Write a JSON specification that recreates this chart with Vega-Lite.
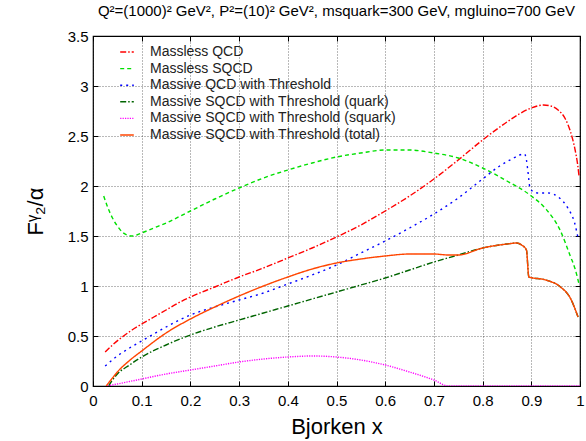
{
  "$schema": "https://vega.github.io/schema/vega-lite/v6.json",
  "width": 487,
  "height": 350,
  "autosize": {"type": "none"},
  "padding": {"left": 93, "top": 36, "right": 6, "bottom": 55},
  "background": "white",
  "config": {
    "font": "Liberation Sans",
    "view": {"stroke": "black", "strokeWidth": 1.2},
    "axis": {"domain": false}
  },
  "title": {
    "text": "Q²=(1000)² GeV², P²=(10)² GeV², msquark=300 GeV, mgluino=700 GeV",
    "font": "Liberation Sans",
    "fontSize": 15,
    "fontWeight": "normal",
    "color": "black",
    "anchor": "middle",
    "offset": 10
  },
  "data": {
    "values": [
      {"series": "Massless QCD", "x": 0.025, "y": 0.34},
      {"series": "Massless QCD", "x": 0.04, "y": 0.41},
      {"series": "Massless QCD", "x": 0.06, "y": 0.49},
      {"series": "Massless QCD", "x": 0.08, "y": 0.56},
      {"series": "Massless QCD", "x": 0.1, "y": 0.62},
      {"series": "Massless QCD", "x": 0.125, "y": 0.69},
      {"series": "Massless QCD", "x": 0.15, "y": 0.76},
      {"series": "Massless QCD", "x": 0.175, "y": 0.83},
      {"series": "Massless QCD", "x": 0.2, "y": 0.89},
      {"series": "Massless QCD", "x": 0.25, "y": 0.99},
      {"series": "Massless QCD", "x": 0.3, "y": 1.09},
      {"series": "Massless QCD", "x": 0.35, "y": 1.18},
      {"series": "Massless QCD", "x": 0.4, "y": 1.28},
      {"series": "Massless QCD", "x": 0.45, "y": 1.38},
      {"series": "Massless QCD", "x": 0.5, "y": 1.49},
      {"series": "Massless QCD", "x": 0.55, "y": 1.61},
      {"series": "Massless QCD", "x": 0.6, "y": 1.75},
      {"series": "Massless QCD", "x": 0.65, "y": 1.9},
      {"series": "Massless QCD", "x": 0.7, "y": 2.07},
      {"series": "Massless QCD", "x": 0.75, "y": 2.26},
      {"series": "Massless QCD", "x": 0.8, "y": 2.46},
      {"series": "Massless QCD", "x": 0.85, "y": 2.64},
      {"series": "Massless QCD", "x": 0.875, "y": 2.72},
      {"series": "Massless QCD", "x": 0.9, "y": 2.78},
      {"series": "Massless QCD", "x": 0.925, "y": 2.81},
      {"series": "Massless QCD", "x": 0.94, "y": 2.8},
      {"series": "Massless QCD", "x": 0.955, "y": 2.76},
      {"series": "Massless QCD", "x": 0.97, "y": 2.67},
      {"series": "Massless QCD", "x": 0.98, "y": 2.55},
      {"series": "Massless QCD", "x": 0.99, "y": 2.36},
      {"series": "Massless QCD", "x": 0.995, "y": 2.22},
      {"series": "Massless QCD", "x": 0.998, "y": 2.1},

      {"series": "Massless SQCD", "x": 0.022, "y": 1.9},
      {"series": "Massless SQCD", "x": 0.03, "y": 1.79},
      {"series": "Massless SQCD", "x": 0.04, "y": 1.68},
      {"series": "Massless SQCD", "x": 0.05, "y": 1.6},
      {"series": "Massless SQCD", "x": 0.06, "y": 1.54},
      {"series": "Massless SQCD", "x": 0.07, "y": 1.51},
      {"series": "Massless SQCD", "x": 0.08, "y": 1.5},
      {"series": "Massless SQCD", "x": 0.09, "y": 1.51},
      {"series": "Massless SQCD", "x": 0.1, "y": 1.53},
      {"series": "Massless SQCD", "x": 0.125, "y": 1.58},
      {"series": "Massless SQCD", "x": 0.15, "y": 1.63},
      {"series": "Massless SQCD", "x": 0.2, "y": 1.75},
      {"series": "Massless SQCD", "x": 0.25, "y": 1.87},
      {"series": "Massless SQCD", "x": 0.3, "y": 1.98},
      {"series": "Massless SQCD", "x": 0.35, "y": 2.08},
      {"series": "Massless SQCD", "x": 0.4, "y": 2.16},
      {"series": "Massless SQCD", "x": 0.45, "y": 2.23},
      {"series": "Massless SQCD", "x": 0.5, "y": 2.29},
      {"series": "Massless SQCD", "x": 0.55, "y": 2.33},
      {"series": "Massless SQCD", "x": 0.6, "y": 2.36},
      {"series": "Massless SQCD", "x": 0.65, "y": 2.36},
      {"series": "Massless SQCD", "x": 0.7, "y": 2.33},
      {"series": "Massless SQCD", "x": 0.75, "y": 2.28},
      {"series": "Massless SQCD", "x": 0.8, "y": 2.18},
      {"series": "Massless SQCD", "x": 0.85, "y": 2.05},
      {"series": "Massless SQCD", "x": 0.9, "y": 1.9},
      {"series": "Massless SQCD", "x": 0.93, "y": 1.77},
      {"series": "Massless SQCD", "x": 0.96, "y": 1.55},
      {"series": "Massless SQCD", "x": 0.98, "y": 1.3},
      {"series": "Massless SQCD", "x": 0.99, "y": 1.17},
      {"series": "Massless SQCD", "x": 0.998, "y": 1.02},

      {"series": "Massive QCD with Threshold", "x": 0.025, "y": 0.2},
      {"series": "Massive QCD with Threshold", "x": 0.05, "y": 0.3},
      {"series": "Massive QCD with Threshold", "x": 0.075, "y": 0.38},
      {"series": "Massive QCD with Threshold", "x": 0.1, "y": 0.45},
      {"series": "Massive QCD with Threshold", "x": 0.15, "y": 0.59},
      {"series": "Massive QCD with Threshold", "x": 0.2, "y": 0.71},
      {"series": "Massive QCD with Threshold", "x": 0.25, "y": 0.79},
      {"series": "Massive QCD with Threshold", "x": 0.3, "y": 0.86},
      {"series": "Massive QCD with Threshold", "x": 0.35, "y": 0.93},
      {"series": "Massive QCD with Threshold", "x": 0.4, "y": 1.02},
      {"series": "Massive QCD with Threshold", "x": 0.45, "y": 1.11},
      {"series": "Massive QCD with Threshold", "x": 0.5, "y": 1.21},
      {"series": "Massive QCD with Threshold", "x": 0.55, "y": 1.33},
      {"series": "Massive QCD with Threshold", "x": 0.6, "y": 1.45},
      {"series": "Massive QCD with Threshold", "x": 0.65, "y": 1.58},
      {"series": "Massive QCD with Threshold", "x": 0.7, "y": 1.72},
      {"series": "Massive QCD with Threshold", "x": 0.75, "y": 1.88},
      {"series": "Massive QCD with Threshold", "x": 0.8, "y": 2.07},
      {"series": "Massive QCD with Threshold", "x": 0.835, "y": 2.2},
      {"series": "Massive QCD with Threshold", "x": 0.86, "y": 2.27},
      {"series": "Massive QCD with Threshold", "x": 0.876, "y": 2.31},
      {"series": "Massive QCD with Threshold", "x": 0.886, "y": 2.32},
      {"series": "Massive QCD with Threshold", "x": 0.89, "y": 2.26},
      {"series": "Massive QCD with Threshold", "x": 0.893, "y": 2.15},
      {"series": "Massive QCD with Threshold", "x": 0.897, "y": 1.99},
      {"series": "Massive QCD with Threshold", "x": 0.905, "y": 1.94},
      {"series": "Massive QCD with Threshold", "x": 0.915, "y": 1.93},
      {"series": "Massive QCD with Threshold", "x": 0.935, "y": 1.93},
      {"series": "Massive QCD with Threshold", "x": 0.958, "y": 1.88},
      {"series": "Massive QCD with Threshold", "x": 0.975, "y": 1.78},
      {"series": "Massive QCD with Threshold", "x": 0.989, "y": 1.63},
      {"series": "Massive QCD with Threshold", "x": 0.996, "y": 1.48},

      {"series": "Massive SQCD with Threshold (quark)", "x": 0.032, "y": 0.0},
      {"series": "Massive SQCD with Threshold (quark)", "x": 0.04, "y": 0.06},
      {"series": "Massive SQCD with Threshold (quark)", "x": 0.05, "y": 0.12},
      {"series": "Massive SQCD with Threshold (quark)", "x": 0.075, "y": 0.21},
      {"series": "Massive SQCD with Threshold (quark)", "x": 0.1, "y": 0.29},
      {"series": "Massive SQCD with Threshold (quark)", "x": 0.15, "y": 0.41},
      {"series": "Massive SQCD with Threshold (quark)", "x": 0.2, "y": 0.51},
      {"series": "Massive SQCD with Threshold (quark)", "x": 0.25, "y": 0.59},
      {"series": "Massive SQCD with Threshold (quark)", "x": 0.3, "y": 0.66},
      {"series": "Massive SQCD with Threshold (quark)", "x": 0.35, "y": 0.73},
      {"series": "Massive SQCD with Threshold (quark)", "x": 0.4, "y": 0.8},
      {"series": "Massive SQCD with Threshold (quark)", "x": 0.45, "y": 0.87},
      {"series": "Massive SQCD with Threshold (quark)", "x": 0.5, "y": 0.94},
      {"series": "Massive SQCD with Threshold (quark)", "x": 0.55, "y": 1.01},
      {"series": "Massive SQCD with Threshold (quark)", "x": 0.6, "y": 1.08},
      {"series": "Massive SQCD with Threshold (quark)", "x": 0.65, "y": 1.16},
      {"series": "Massive SQCD with Threshold (quark)", "x": 0.7, "y": 1.24},
      {"series": "Massive SQCD with Threshold (quark)", "x": 0.75, "y": 1.31},
      {"series": "Massive SQCD with Threshold (quark)", "x": 0.8, "y": 1.38},
      {"series": "Massive SQCD with Threshold (quark)", "x": 0.85, "y": 1.42},
      {"series": "Massive SQCD with Threshold (quark)", "x": 0.87, "y": 1.43},
      {"series": "Massive SQCD with Threshold (quark)", "x": 0.88, "y": 1.41},
      {"series": "Massive SQCD with Threshold (quark)", "x": 0.89, "y": 1.36},
      {"series": "Massive SQCD with Threshold (quark)", "x": 0.895, "y": 1.09},
      {"series": "Massive SQCD with Threshold (quark)", "x": 0.93, "y": 1.06},
      {"series": "Massive SQCD with Threshold (quark)", "x": 0.96, "y": 0.99},
      {"series": "Massive SQCD with Threshold (quark)", "x": 0.98, "y": 0.88},
      {"series": "Massive SQCD with Threshold (quark)", "x": 0.996, "y": 0.69},

      {"series": "Massive SQCD with Threshold (squark)", "x": 0.03, "y": 0.0},
      {"series": "Massive SQCD with Threshold (squark)", "x": 0.05, "y": 0.02},
      {"series": "Massive SQCD with Threshold (squark)", "x": 0.075, "y": 0.045},
      {"series": "Massive SQCD with Threshold (squark)", "x": 0.1, "y": 0.07},
      {"series": "Massive SQCD with Threshold (squark)", "x": 0.15, "y": 0.12},
      {"series": "Massive SQCD with Threshold (squark)", "x": 0.2, "y": 0.16},
      {"series": "Massive SQCD with Threshold (squark)", "x": 0.25, "y": 0.2},
      {"series": "Massive SQCD with Threshold (squark)", "x": 0.3, "y": 0.24},
      {"series": "Massive SQCD with Threshold (squark)", "x": 0.35, "y": 0.27},
      {"series": "Massive SQCD with Threshold (squark)", "x": 0.4, "y": 0.29},
      {"series": "Massive SQCD with Threshold (squark)", "x": 0.45, "y": 0.3},
      {"series": "Massive SQCD with Threshold (squark)", "x": 0.5, "y": 0.29},
      {"series": "Massive SQCD with Threshold (squark)", "x": 0.55, "y": 0.26},
      {"series": "Massive SQCD with Threshold (squark)", "x": 0.6, "y": 0.21},
      {"series": "Massive SQCD with Threshold (squark)", "x": 0.65, "y": 0.14},
      {"series": "Massive SQCD with Threshold (squark)", "x": 0.7, "y": 0.06},
      {"series": "Massive SQCD with Threshold (squark)", "x": 0.73, "y": 0.0},
      {"series": "Massive SQCD with Threshold (squark)", "x": 0.8, "y": 0.0},
      {"series": "Massive SQCD with Threshold (squark)", "x": 0.9, "y": 0.0},
      {"series": "Massive SQCD with Threshold (squark)", "x": 1.0, "y": 0.0},

      {"series": "Massive SQCD with Threshold (total)", "x": 0.027, "y": 0.0},
      {"series": "Massive SQCD with Threshold (total)", "x": 0.04, "y": 0.08},
      {"series": "Massive SQCD with Threshold (total)", "x": 0.05, "y": 0.14},
      {"series": "Massive SQCD with Threshold (total)", "x": 0.075, "y": 0.255},
      {"series": "Massive SQCD with Threshold (total)", "x": 0.1, "y": 0.35},
      {"series": "Massive SQCD with Threshold (total)", "x": 0.15, "y": 0.53},
      {"series": "Massive SQCD with Threshold (total)", "x": 0.2, "y": 0.67},
      {"series": "Massive SQCD with Threshold (total)", "x": 0.25, "y": 0.79},
      {"series": "Massive SQCD with Threshold (total)", "x": 0.3, "y": 0.9},
      {"series": "Massive SQCD with Threshold (total)", "x": 0.35, "y": 1.0},
      {"series": "Massive SQCD with Threshold (total)", "x": 0.4, "y": 1.09},
      {"series": "Massive SQCD with Threshold (total)", "x": 0.45, "y": 1.17},
      {"series": "Massive SQCD with Threshold (total)", "x": 0.5, "y": 1.23},
      {"series": "Massive SQCD with Threshold (total)", "x": 0.55, "y": 1.27},
      {"series": "Massive SQCD with Threshold (total)", "x": 0.6, "y": 1.3},
      {"series": "Massive SQCD with Threshold (total)", "x": 0.65, "y": 1.32},
      {"series": "Massive SQCD with Threshold (total)", "x": 0.7, "y": 1.32},
      {"series": "Massive SQCD with Threshold (total)", "x": 0.73, "y": 1.31},
      {"series": "Massive SQCD with Threshold (total)", "x": 0.75, "y": 1.31},
      {"series": "Massive SQCD with Threshold (total)", "x": 0.8, "y": 1.38},
      {"series": "Massive SQCD with Threshold (total)", "x": 0.85, "y": 1.42},
      {"series": "Massive SQCD with Threshold (total)", "x": 0.87, "y": 1.43},
      {"series": "Massive SQCD with Threshold (total)", "x": 0.88, "y": 1.41},
      {"series": "Massive SQCD with Threshold (total)", "x": 0.89, "y": 1.36},
      {"series": "Massive SQCD with Threshold (total)", "x": 0.895, "y": 1.09},
      {"series": "Massive SQCD with Threshold (total)", "x": 0.93, "y": 1.06},
      {"series": "Massive SQCD with Threshold (total)", "x": 0.96, "y": 0.99},
      {"series": "Massive SQCD with Threshold (total)", "x": 0.98, "y": 0.88},
      {"series": "Massive SQCD with Threshold (total)", "x": 0.996, "y": 0.69}
    ]
  },
  "resolve": {"axis": {"x": "independent", "y": "independent"}},
  "layer": [
    {
      "mark": {"type": "line", "interpolate": "monotone", "clip": true},
      "encoding": {
        "x": {
          "field": "x", "type": "quantitative",
          "scale": {"domain": [0, 1], "nice": false, "zero": false},
          "axis": {
            "orient": "bottom",
            "title": "Bjorken x",
            "titleFont": "Liberation Sans",
            "titleFontSize": 22,
            "titleFontWeight": "normal",
            "titleColor": "black",
            "titlePadding": 8,
            "values": [0, 0.1, 0.2, 0.3, 0.4, 0.5, 0.6, 0.7, 0.8, 0.9, 1],
            "format": "~g",
            "labelFont": "Liberation Sans",
            "labelFontSize": 15,
            "labelColor": "black",
            "labelPadding": 12,
            "labelFlush": false,
            "tickSize": -5,
            "tickColor": "black",
            "grid": true,
            "gridColor": "black",
            "gridDash": [1, 2],
            "gridOpacity": 0.55
          }
        },
        "y": {
          "field": "y", "type": "quantitative",
          "scale": {"domain": [0, 3.5], "nice": false, "zero": false},
          "axis": {
            "orient": "left",
            "title": "Fᵞ₂/α",
            "titleFont": "Liberation Sans",
            "titleFontSize": 22,
            "titleFontWeight": "normal",
            "titleColor": "black",
            "titlePadding": 20,
            "values": [0, 0.5, 1, 1.5, 2, 2.5, 3, 3.5],
            "format": "~g",
            "labelFont": "Liberation Sans",
            "labelFontSize": 15,
            "labelColor": "black",
            "labelPadding": 10,
            "labelFlush": false,
            "tickSize": -5,
            "tickColor": "black",
            "grid": true,
            "gridColor": "black",
            "gridDash": [1, 2],
            "gridOpacity": 0.55
          }
        },
        "color": {
          "field": "series", "type": "nominal",
          "scale": {
            "domain": ["Massless QCD", "Massless SQCD", "Massive QCD with Threshold", "Massive SQCD with Threshold (quark)", "Massive SQCD with Threshold (squark)", "Massive SQCD with Threshold (total)"],
            "range": ["#ff0000", "#00e000", "#0000ff", "#006400", "#ff00ff", "#ff4500"]
          },
          "legend": {
            "title": null,
            "orient": "none",
            "legendX": 25,
            "legendY": 7,
            "padding": 0,
            "symbolType": "M-0.85,0H0.85",
            "symbolSize": 256,
            "symbolStrokeWidth": 1.5,
            "labelFont": "Liberation Sans",
            "labelFontSize": 14,
            "labelColor": "#222222",
            "labelOffset": 14,
            "labelLimit": 400,
            "rowPadding": 0.6
          }
        },
        "strokeDash": {
          "field": "series", "type": "nominal",
          "scale": {
            "domain": ["Massless QCD", "Massless SQCD", "Massive QCD with Threshold", "Massive SQCD with Threshold (quark)", "Massive SQCD with Threshold (squark)", "Massive SQCD with Threshold (total)"],
            "range": [[6, 2, 1.5, 2], [4, 3], [2, 4], [6, 2, 1.5, 2], [1.2, 1.2], [1, 0]]
          },
          "legend": {
            "title": null,
            "orient": "none",
            "legendX": 25,
            "legendY": 7,
            "padding": 0,
            "symbolType": "M-0.85,0H0.85",
            "symbolSize": 256,
            "symbolStrokeWidth": 1.5,
            "labelFont": "Liberation Sans",
            "labelFontSize": 14,
            "labelColor": "#222222",
            "labelOffset": 14,
            "labelLimit": 400,
            "rowPadding": 0.6
          }
        },
        "strokeWidth": {
          "field": "series", "type": "nominal",
          "scale": {
            "domain": ["Massless QCD", "Massless SQCD", "Massive QCD with Threshold", "Massive SQCD with Threshold (quark)", "Massive SQCD with Threshold (squark)", "Massive SQCD with Threshold (total)"],
            "range": [1.4, 1.4, 2, 1.4, 1.6, 2]
          },
          "legend": null
        }
      }
    },
    {
      "mark": {"type": "line", "opacity": 0},
      "encoding": {
        "x": {
          "field": "x", "type": "quantitative",
          "axis": {"orient": "top", "title": null, "labels": false, "grid": false,
                   "values": [0, 0.1, 0.2, 0.3, 0.4, 0.5, 0.6, 0.7, 0.8, 0.9, 1],
                   "tickSize": -5, "tickColor": "black"}
        },
        "y": {
          "field": "y", "type": "quantitative",
          "axis": {"orient": "right", "title": null, "labels": false, "grid": false,
                   "values": [0, 0.5, 1, 1.5, 2, 2.5, 3, 3.5],
                   "tickSize": -5, "tickColor": "black"}
        },
        "detail": {"field": "series", "type": "nominal"}
      }
    }
  ]
}
